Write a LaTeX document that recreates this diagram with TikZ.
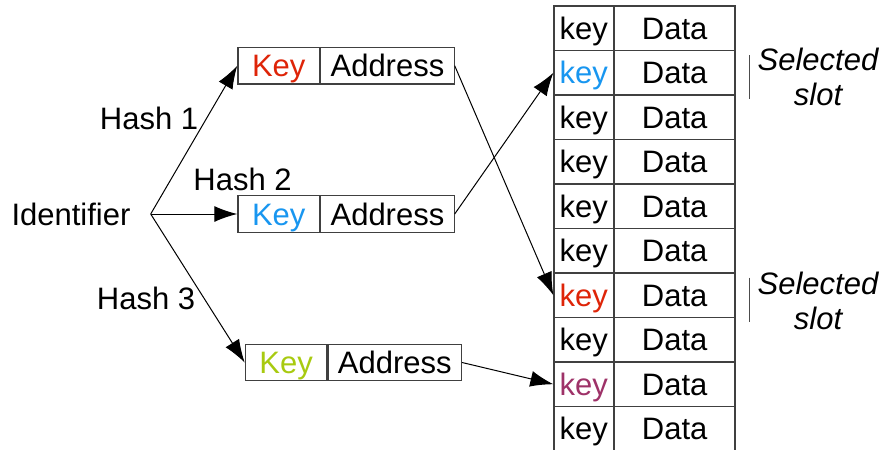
\documentclass[tikz,border=0pt]{standalone}
\usepackage{fontspec}
\setmainfont{Liberation Sans}
\usepackage{xcolor}
\usepackage{tikz}
\usetikzlibrary{arrows.meta}
\usetikzlibrary{positioning}

\definecolor{keyred}{RGB}{222,36,8}
\definecolor{keyblue}{RGB}{24,150,240}
\definecolor{keygreen}{RGB}{168,202,16}
\definecolor{keypurple}{RGB}{158,50,104}

\tikzset{
  cellbase/.style={draw=black!75, line width=0.6pt, inner sep=0pt,
    text height=11.1pt, text depth=0pt},
  boxkey/.style={cellbase, minimum width=40.85pt, minimum height=18.35pt},
  boxaddr/.style={cellbase, minimum width=66.65pt, minimum height=18.35pt},
  tkey/.style={cellbase, minimum width=29.65pt, minimum height=22.25pt},
  tdata/.style={cellbase, minimum width=60.2pt, minimum height=22.25pt},
  hasharrow/.style={-{Latex[length=11.5pt,width=8pt]}, line width=0.5pt},
  slotbar/.style={line width=0.6pt, color=black!70}
}

\begin{document}
\begin{tikzpicture}[x=0.5pt, y=-0.5pt,
  font=\fontsize{15.5pt}{17.5pt}\selectfont]

\clip (0,0) rectangle (884,450);

\node (ident) at (71,214) {Identifier};
\coordinate (split) at (150.7,214);

% the three hashed entries
\node[boxkey, anchor=west, text=keyred] (b1k) at (237.3,65.7) {Key};
\node[boxaddr, right=0pt of b1k] (b1a) {Address};
\node[boxkey, anchor=west, text=keyblue] (b2k) at (237.3,214) {Key};
\node[boxaddr, right=0pt of b2k] (b2a) {Address};
\node[boxkey, anchor=west, text=keygreen] (b3k) at (244.7,362.5) {Key};
\node[boxaddr, right=0pt of b3k] (b3a) {Address};

\node (h1) at (149,118) {Hash 1};
\node (h2) at (242.5,179) {Hash 2};
\node (h3) at (146,298) {Hash 3};

% table
\foreach \i/\c in {1/black,2/keyblue,3/black,4/black,5/black,
                   6/black,7/keyred,8/black,9/keypurple,10/black}{
  \node[tkey, text=\c] (k\i) at (583.65,{6+44.5*(\i-0.5)}) {key};
  \node[tdata, right=0pt of k\i] (d\i) {Data};
}

\draw[hasharrow] (split) -- (b1k.west);
\draw[hasharrow] (split) -- (b2k.west);
\draw[hasharrow] (split) -- (b3k.west);

\draw[hasharrow] (b1a.east) -- (k7.west);
\draw[hasharrow] (b2a.east) -- (k2.west);
\draw[hasharrow] (b3a.east) -- (k9.west);

% selected slots
\draw[slotbar] (749.3,55) -- (749.3,98.7);
\node[align=center, font=\fontsize{15.5pt}{17.5pt}\selectfont\itshape] (sel1) at (818,77) {Selected\\slot};
\draw[slotbar] (749.3,277.7) -- (749.3,321.7);
\node[align=center, font=\fontsize{15.5pt}{17.5pt}\selectfont\itshape] (sel2) at (818,300.5) {Selected\\slot};

\end{tikzpicture}
\end{document}
